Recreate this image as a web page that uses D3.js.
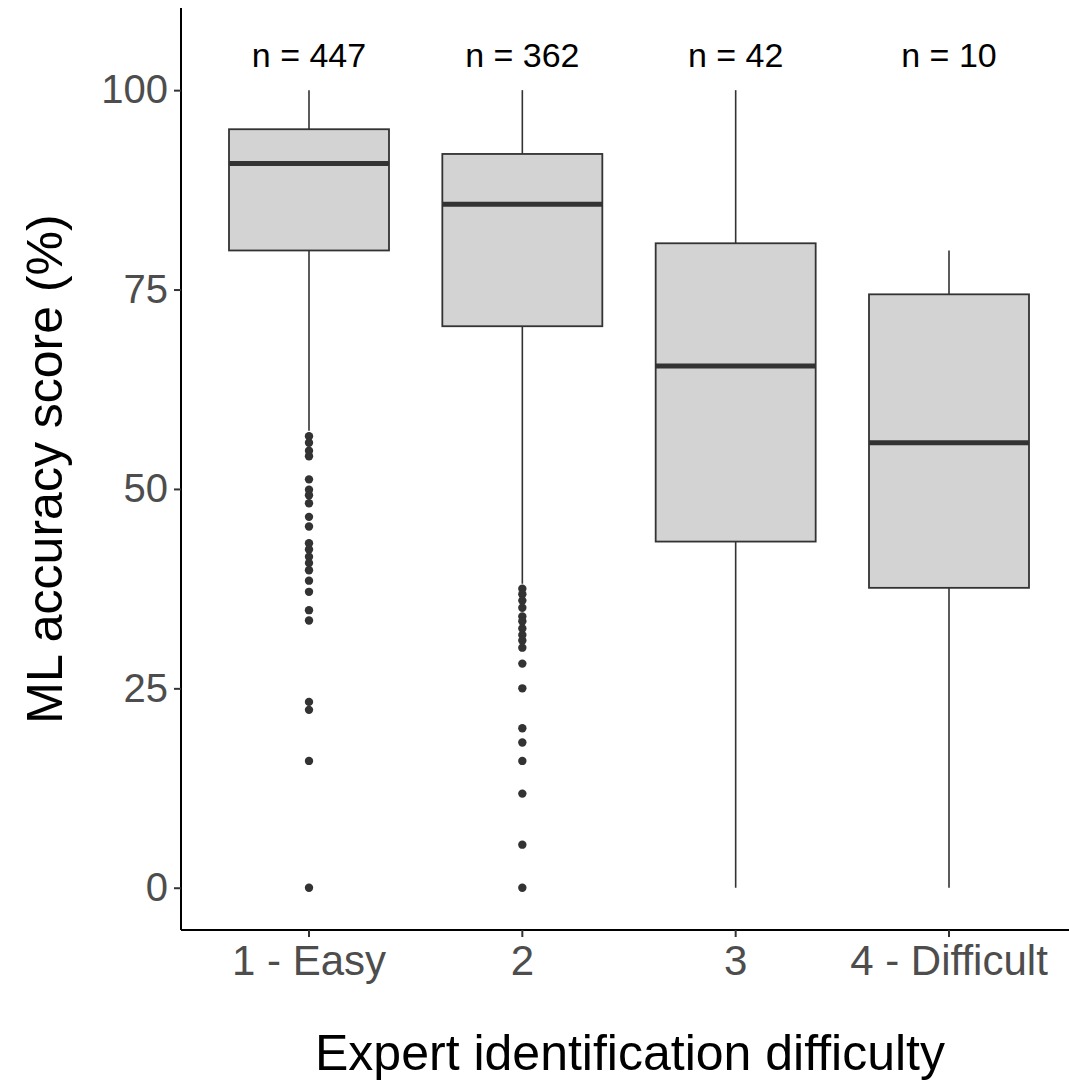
<!DOCTYPE html>
<html>
<head>
<meta charset="utf-8">
<script src="https://cdn.jsdelivr.net/npm/d3@7"></script>
<style>
  body { margin: 0; background: #fff; }
  text { font-family: "Liberation Sans", Arial, sans-serif; }
</style>
</head>
<body>
<svg id="chart" width="1069" height="1081"></svg>
<script>
// categories and counts
var categories = ["1 - Easy", "2", "3", "4 - Difficult"];
var counts = [447, 362, 42, 10];

// box stats
var whiskLow = [57.3, 38.1, 0, 0];
var q1 = [79.9, 70.4, 43.4, 37.6];
var median = [90.8, 85.7, 65.4, 55.8];
var q3 = [95.1, 92.0, 80.8, 74.4];
var whiskHigh = [100, 100, 100, 79.9];

// outliers per group
var outliers1 = [56.6, 55.8, 54.8, 54.1, 51.2, 49.9, 49.2, 48.2, 46.5, 45.3, 43.2, 42.4,
  41.5, 40.7, 39.8, 38.5, 37.1, 34.8, 33.5, 23.3, 22.3, 15.9, 0];
var outliers2 = [37.5, 36.8, 36.0, 35.1, 34.0, 33.4, 32.5, 31.7, 31.0, 30.1, 28.1, 25.0,
  20.0, 18.2, 15.9, 11.8, 5.4, 0];
var outliers = [outliers1, outliers2, [], []];

var yTicks = [0, 25, 50, 75, 100];

var svg = d3.select("#chart");
var mLeft = 181, mRight = 1077, mTop = 8, mBottom = 930;

/*** scales ***/
var xScale = d3.scaleBand()
  .domain(categories)
  .range([mLeft, mRight])
  .paddingOuter(0.1)
  .paddingInner(0);

var yScale = d3.scaleLinear()
  .domain([-5.3, 110.3])
  .range([mBottom, mTop]);

var boxW = xScale.bandwidth() * 0.75;
var cx = (d) => xScale(d) + xScale.bandwidth() / 2;

/*** axes ***/
var yAxis = d3.axisLeft(yScale).tickValues(yTicks).tickSize(7).tickPadding(6);
var gy = svg.append("g")
  .attr("transform", "translate(" + mLeft + ",0)")
  .call(yAxis);

var xAxis = d3.axisBottom(xScale).tickSize(7).tickPadding(8);
var gx = svg.append("g")
  .attr("transform", "translate(0," + mBottom + ")")
  .call(xAxis);

[gy, gx].forEach(function (g) {
  g.selectAll(".tick line").attr("stroke", "#333").attr("stroke-width", 2);
  g.selectAll(".tick text").attr("fill", "#4d4d4d");
});
gy.selectAll(".tick text").style("font-size", "40px");
gx.selectAll(".tick text").style("font-size", "42px");
gx.select(".domain").attr("d", "M" + mLeft + ",0H" + mRight)
  .attr("stroke", "#000").attr("stroke-width", 2);
gy.select(".domain").attr("d", "M0," + mBottom + "V" + mTop)
  .attr("stroke", "#000").attr("stroke-width", 2);

/*** boxes ***/
var groups = svg.selectAll("g.box")
  .data(categories)
  .join("g")
  .attr("class", "box");

groups.append("line")
  .attr("x1", cx).attr("x2", cx)
  .attr("y1", (d, i) => yScale(whiskLow[i]))
  .attr("y2", (d, i) => yScale(q1[i]))
  .attr("stroke", "#333").attr("stroke-width", 1.6);

groups.append("line")
  .attr("x1", cx).attr("x2", cx)
  .attr("y1", (d, i) => yScale(q3[i]))
  .attr("y2", (d, i) => yScale(whiskHigh[i]))
  .attr("stroke", "#333").attr("stroke-width", 1.6);

groups.append("rect")
  .attr("x", (d) => cx(d) - boxW / 2)
  .attr("width", boxW)
  .attr("y", (d, i) => yScale(q3[i]))
  .attr("height", (d, i) => yScale(q1[i]) - yScale(q3[i]))
  .attr("fill", "#d3d3d3")
  .attr("stroke", "#333")
  .attr("stroke-width", 1.8);

groups.append("line")
  .attr("x1", (d) => cx(d) - boxW / 2)
  .attr("x2", (d) => cx(d) + boxW / 2)
  .attr("y1", (d, i) => yScale(median[i]))
  .attr("y2", (d, i) => yScale(median[i]))
  .attr("stroke", "#333").attr("stroke-width", 5);

groups.each(function (d, i) {
  d3.select(this).selectAll("circle")
    .data(outliers[i])
    .join("circle")
    .attr("cx", cx(d))
    .attr("cy", (v) => yScale(v))
    .attr("r", 4.2)
    .attr("fill", "#333");
});

/*** n labels ***/
svg.selectAll("text.nlab")
  .data(categories)
  .join("text")
  .attr("class", "nlab")
  .attr("x", cx)
  .attr("y", 67)
  .attr("text-anchor", "middle")
  .style("font-size", "34px")
  .attr("fill", "#000")
  .text((d, i) => "n = " + counts[i]);

/*** axis titles ***/
svg.append("text")
  .attr("x", 630)
  .attr("y", 1070)
  .attr("text-anchor", "middle")
  .style("font-size", "50px")
  .attr("fill", "#000")
  .text("Expert identification difficulty");

svg.append("text")
  .attr("transform", "translate(62," + ((mTop + mBottom) / 2) + ") rotate(-90)")
  .attr("text-anchor", "middle")
  .style("font-size", "50px")
  .attr("fill", "#000")
  .text("ML accuracy score (%)");
</script>
</body>
</html>
